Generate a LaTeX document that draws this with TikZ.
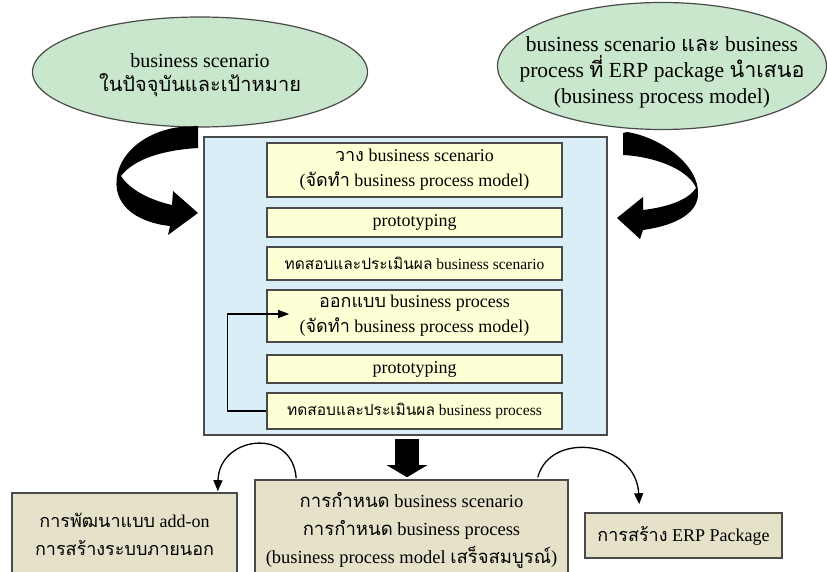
\documentclass[tikz,border=0pt]{standalone}
\usepackage{fontspec}
\setmainfont{Liberation Serif}
\newfontfamily\thaifont[Script=Thai]{Loma}
\newcommand{\thai}[1]{{\thaifont #1}}
\usetikzlibrary{arrows.meta,calc,shapes.geometric}
\definecolor{ellfill}{HTML}{C9E7CD}
\definecolor{mainfill}{HTML}{D9EEF6}
\definecolor{yfill}{HTML}{FFFFD6}
\definecolor{bfill}{HTML}{E6E2CA}
\definecolor{edge}{HTML}{4A4A4A}
\begin{document}
\begin{tikzpicture}[x=1pt,y=-1pt,
  ell/.style={ellipse,draw=edge,line width=1.2pt,fill=ellfill,inner sep=0pt},
  elltext/.style={inner sep=0pt,align=center},
  mainbox/.style={rectangle,draw=edge,line width=1.6pt,fill=mainfill,inner sep=0pt},
  ybox/.style={rectangle,draw=edge,line width=1.6pt,fill=yfill,inner sep=0pt,minimum width=295pt,align=center,font=\fontsize{18}{25}\selectfont},
  ysmall/.style={ybox,font=\fontsize{15.5}{18}\selectfont},
  bbox/.style={rectangle,draw=edge,line width=1.6pt,fill=bfill,inner sep=0pt,align=center,font=\fontsize{18.5}{28}\selectfont},
  thinarrow/.style={draw=black,line width=1.3pt,-{Triangle[length=11pt,width=9pt]}},
  bigarrow/.style={fill=black}
]
\useasboundingbox (0,0) rectangle (827,572);
\clip (0,0) rectangle (827,572);

% ellipses
\node[ell,minimum width=335pt,minimum height=110pt] (e1) at (200,72) {};
\node[elltext,font=\fontsize{20}{24}\selectfont] (e1t) at (200,75)
  {business scenario\\\thai{ในปัจจุบันและเป้าหมาย}};
\node[ell,minimum width=329pt,minimum height=127pt] (e2) at (662,66) {};
\node[elltext,font=\fontsize{21.5}{26}\selectfont] (e2t) at (662,72)
  {business scenario \thai{และ} business\\process \thai{ที่} ERP package \thai{นำเสนอ}\\(business process model)};

% main box
\node[mainbox,minimum width=403pt,minimum height=298pt] (m) at (405.5,286) {};

% yellow steps
\node[ybox,minimum height=54pt] (b1) at (414.5,170) {\thai{วาง} business scenario\\(\thai{จัดทำ} business process model)};
\node[ybox,minimum height=29pt] (b2) at (414.5,222.5) {prototyping};
\node[ysmall,minimum height=33pt] (b3) at (414.5,263.5) {\thai{ทดสอบและประเมินผล} business scenario};
\node[ysmall,minimum height=52pt,ybox,minimum height=52pt] (b4) at (414.5,316) {\thai{ออกแบบ} business process\\(\thai{จัดทำ} business process model)};
\node[ybox,minimum height=28pt] (b5) at (414.5,369) {prototyping};
\node[ysmall,minimum height=36pt] (b6) at (414.5,411) {\thai{ทดสอบและประเมินผล} business process};

% loop arrow
\coordinate (lp) at ($(b4.west)+(23,-2)$);
\draw[line width=1.3pt,-{Triangle[length=11pt,width=8pt]}] (b6.west) -- ++(-39,0) |- (lp);

% bottom boxes
\node[bbox,minimum width=313pt,minimum height=100pt] (bc) at (411.5,530)
  {\thai{การกำหนด} business scenario\\\thai{การกำหนด} business process\\(business process model \thai{เสร็จสมบูรณ์})};
\node[bbox,minimum width=225pt,minimum height=82pt,font=\fontsize{18}{28}\selectfont] (bl) at (124.5,534)
  {\thai{การพัฒนาแบบ} add-on\\\thai{การสร้างระบบภายนอก}};
\node[bbox,minimum width=197pt,minimum height=45pt,font=\fontsize{18}{28}\selectfont] (br) at (683.5,535.5)
  {\thai{การสร้าง} ERP Package};

% thick down arrow
\draw[line width=24pt,-{Triangle[length=12pt,width=40pt]}] ($(m.south)+(1.5,3)$) -- ($(bc.north)+(-4.5,-2)$);

% small curved arrows
\draw[thinarrow] ($(bc.north west)+(42,-1)$) .. controls +(-4,-52) and +(1,-55) .. ($(bl.north east)+(-20,-1)$);
\draw[thinarrow] ($(bc.north east)+(-31,-2)$) .. controls +(13,-48) and +(-3,-62) .. ($(br.north west)+(55,-8)$);

% big curved arrow left (from e1 to main box)
\fill[bigarrow] (198,126) -- (180,127) .. controls (140,132) and (112,160) .. (117,190)
  .. controls (122,215) and (150,224) .. (170,226) -- (168,235) -- (198,213) -- (173,191) -- (172,205)
  .. controls (150,200) and (130,190) .. (121,176)
  .. controls (135,158) and (165,150) .. (198,148) -- cycle;

% big curved arrow right (from e2 to main box)
\fill[bigarrow] (623,133) -- (627,132) .. controls (660,137) and (700,165) .. (698,195)
  .. controls (697,215) and (672,226) .. (643,230) -- (640,239) -- (617,218) -- (643,197) -- (643,210)
  .. controls (668,207) and (688,200) .. (696,188)
  .. controls (690,172) and (660,157) .. (623,155) -- cycle;
\end{tikzpicture}
\end{document}
